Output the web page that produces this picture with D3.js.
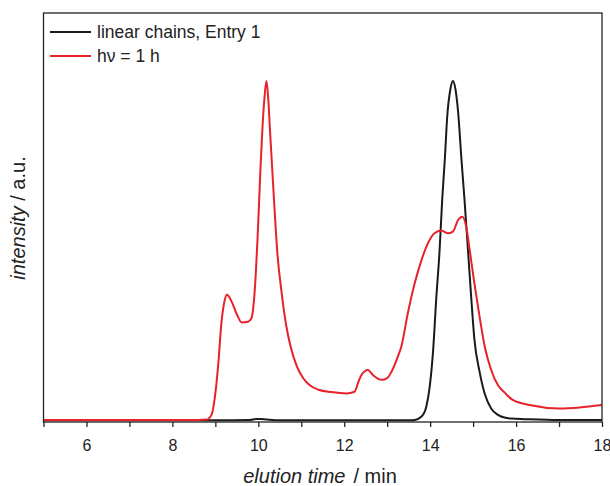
<!DOCTYPE html>
<html>
<head>
<meta charset="utf-8">
<script src="https://cdn.jsdelivr.net/npm/d3@7"></script>
<style>
  html, body { margin: 0; padding: 0; background: #fff; }
  svg { display: block; font-family: "Liberation Sans", Arial, sans-serif; }
</style>
</head>
<body>
<svg id="chart" width="610" height="486"></svg>
<script>
// SEC traces: elution time (min) vs normalised detector intensity
const linearTime = [5, 6, 7, 8, 9, 9.8, 9.95, 10.05, 10.2, 10.4, 11, 12, 13, 13.5, 13.64, 13.8, 13.91, 13.99, 14.07, 14.14, 14.22, 14.28, 14.34, 14.40, 14.47, 14.53, 14.59, 14.65, 14.73, 14.80, 14.88, 14.96, 15.03, 15.15, 15.27, 15.42, 15.58, 15.73, 15.92, 16.31, 17, 18];
const linearIntensity = [0.002, 0.002, 0.002, 0.002, 0.002, 0.003, 0.006, 0.006, 0.004, 0.002, 0.002, 0.002, 0.002, 0.002, 0.003, 0.013, 0.042, 0.101, 0.209, 0.356, 0.503, 0.65, 0.767, 0.90, 0.975, 1.0, 0.975, 0.91, 0.767, 0.65, 0.503, 0.356, 0.24, 0.145, 0.08, 0.037, 0.018, 0.01, 0.007, 0.005, 0.003, 0.003];

const irrTime = [5, 6, 7, 8, 8.6, 8.80, 8.91, 8.99, 9.07, 9.14, 9.22, 9.27, 9.38, 9.49, 9.61, 9.76, 9.84, 9.90, 9.94, 9.98, 10.02, 10.06, 10.10, 10.14, 10.19, 10.23, 10.27, 10.32, 10.37, 10.44, 10.55, 10.65, 10.75, 10.9, 11.05, 11.2, 11.4, 11.7, 12.05, 12.24, 12.33, 12.4, 12.55, 12.67, 12.87, 13.0, 13.1, 13.25, 13.33, 13.48, 13.64, 13.80, 13.95, 14.10, 14.26, 14.41, 14.53, 14.65, 14.75, 14.84, 14.92, 15.03, 15.15, 15.27, 15.42, 15.58, 15.73, 15.92, 16.31, 17.01, 17.48, 18];
const irrIntensity = [0.003, 0.003, 0.003, 0.003, 0.003, 0.004, 0.018, 0.071, 0.17, 0.287, 0.356, 0.371, 0.351, 0.317, 0.29, 0.292, 0.302, 0.356, 0.43, 0.53, 0.65, 0.77, 0.87, 0.945, 1.0, 0.95, 0.86, 0.75, 0.64, 0.5, 0.37, 0.28, 0.22, 0.16, 0.125, 0.105, 0.092, 0.085, 0.081, 0.086, 0.115, 0.135, 0.15, 0.135, 0.121, 0.126, 0.145, 0.19, 0.219, 0.317, 0.405, 0.474, 0.523, 0.552, 0.560, 0.552, 0.557, 0.591, 0.601, 0.571, 0.503, 0.405, 0.307, 0.219, 0.15, 0.105, 0.084, 0.062, 0.047, 0.037, 0.04, 0.047];

const seriesNames = ["linear chains, Entry 1", "h\u03bd = 1 h"];
const seriesColors = ["#1b1b1b", "#e8212b"];
const xTicks = [6, 8, 10, 12, 14, 16, 18];
const xMinorTicks = [5, 7, 9, 11, 13, 15, 17];

const svg = d3.select("#chart");
const plot = { left: 43.5, right: 602, top: 13, bottom: 422 };

const x = d3.scaleLinear().domain([5, 18]).range([plot.left, plot.right]);
const y = d3.scaleLinear().domain([-0.003, 1.0]).range([plot.bottom, 81]);

const series = [
  { name: seriesNames[0], color: seriesColors[0], t: linearTime, v: linearIntensity },
  { name: seriesNames[1], color: seriesColors[1], t: irrTime, v: irrIntensity }
];

const line = d3.line()
  .x(d => x(d[0]))
  .y(d => y(d[1]))
  .curve(d3.curveMonotoneX);

svg.append("clipPath").attr("id", "plotclip")
  .append("rect")
  .attr("x", plot.left).attr("y", plot.top)
  .attr("width", plot.right - plot.left).attr("height", plot.bottom - plot.top);

// traces: black first, red drawn over it
const traces = svg.append("g").attr("clip-path", "url(#plotclip)");
series.forEach(s => {
  traces.append("path")
    .datum(s.t.map((t, i) => [t, s.v[i]]))
    .attr("fill", "none")
    .attr("stroke", s.color)
    .attr("stroke-width", 2)
    .attr("stroke-linejoin", "round")
    .attr("d", line);
});

// frame
svg.append("rect")
  .attr("x", plot.left).attr("y", plot.top)
  .attr("width", plot.right - plot.left).attr("height", plot.bottom - plot.top)
  .attr("fill", "none").attr("stroke", "#222").attr("stroke-width", 1.3);

// bottom axis: major ticks with labels, minor ticks between
const xAxis = d3.axisBottom(x).tickValues(xTicks).tickSize(5).tickPadding(13).tickFormat(d3.format("d"));
const gx = svg.append("g").attr("transform", `translate(0,${plot.bottom})`).call(xAxis);
gx.select(".domain").remove();
gx.selectAll(".tick line").attr("stroke", "#222").attr("stroke-width", 1.3);
gx.selectAll(".tick text").attr("font-size", 16).attr("fill", "#222")
  .attr("font-family", "'Liberation Sans', Arial, sans-serif");

const xMinor = d3.axisBottom(x).tickValues(xMinorTicks).tickSize(5).tickFormat("");
const gxm = svg.append("g").attr("transform", `translate(0,${plot.bottom})`).call(xMinor);
gxm.select(".domain").remove();
gxm.selectAll(".tick line").attr("stroke", "#222").attr("stroke-width", 1.3);

// axis titles
const xt = svg.append("text")
  .attr("x", 320).attr("y", 483)
  .attr("text-anchor", "middle").attr("font-size", 20).attr("fill", "#222");
xt.append("tspan").attr("font-style", "italic").text("elution time");
xt.append("tspan").attr("dx", 8).text("/ min");

const yt = svg.append("text")
  .attr("transform", "translate(25,218) rotate(-90)")
  .attr("text-anchor", "middle").attr("font-size", 20).attr("fill", "#222");
yt.append("tspan").attr("font-style", "italic").text("intensity");
yt.append("tspan").text(" / a.u.");

// legend
const legend = svg.append("g");
series.forEach((s, i) => {
  const ly = 32 + i * 24;
  legend.append("line")
    .attr("x1", 50).attr("x2", 91).attr("y1", ly).attr("y2", ly)
    .attr("stroke", s.color).attr("stroke-width", 2);
  legend.append("text")
    .attr("x", 97).attr("y", ly + 6.3)
    .attr("font-size", 17.5).attr("fill", "#222")
    .text(s.name);
});
</script>
</body>
</html>
